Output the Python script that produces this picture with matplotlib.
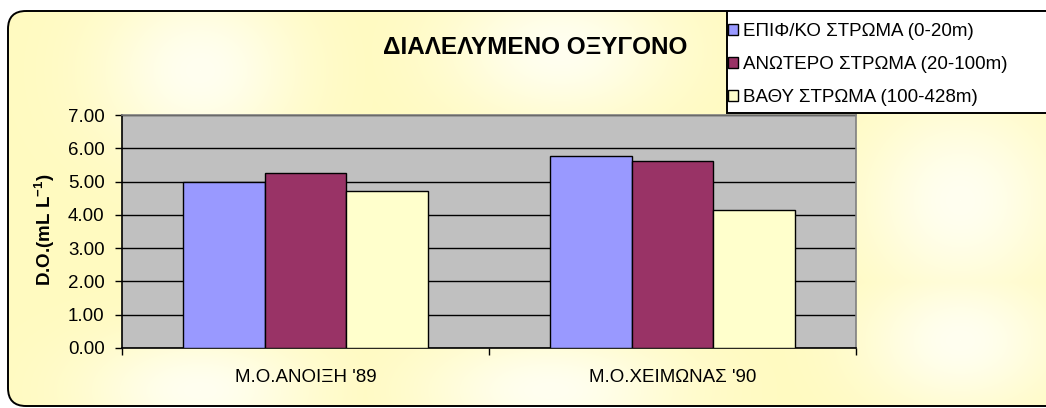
import numpy as np
import matplotlib
matplotlib.use("Agg")
import matplotlib.pyplot as plt
from matplotlib.patches import FancyBboxPatch, Patch, Rectangle

plt.rcParams['font.family'] = ['Liberation Sans', 'DejaVu Sans']
plt.rcParams['mathtext.fontset'] = 'custom'
plt.rcParams['mathtext.rm'] = 'Liberation Sans'
plt.rcParams['mathtext.bf'] = 'Liberation Sans:bold'

# dissolved oxygen, mean per season and layer
seasons = ["Μ.Ο.ΑΝΟΙΞΗ '89", "Μ.Ο.ΧΕΙΜΩΝΑΣ '90"]
layers = ["ΕΠΙΦ/ΚΟ ΣΤΡΩΜΑ (0-20m)", "ΑΝΩΤΕΡΟ ΣΤΡΩΜΑ (20-100m)", "ΒΑΘΥ ΣΤΡΩΜΑ (100-428m)"]
surface = [5.00, 5.77]
upper = [5.25, 5.63]
deep = [4.72, 4.14]
colors = ["#9999FF", "#993366", "#FFFFCC"]

W, H = 1046, 408
fs = 13.5
fig = plt.figure(figsize=(W / 100, H / 100), dpi=100, facecolor="white")

# chart background: pale yellow with soft lighter patches, inside a rounded frame
bg = fig.add_axes([0, 0, 1, 1])
bg.set_xlim(0, W)
bg.set_ylim(H, 0)
bg.axis("off")
yy, xx = np.mgrid[0:H, 0:W]
light = np.zeros((H, W))
for cx, cy, sx, sy in [(200, 70, 70, 60), (560, 50, 80, 50), (550, 390, 90, 40),
                       (960, 200, 70, 70), (960, 340, 70, 50), (200, 390, 80, 40)]:
    light = np.maximum(light, np.exp(-((xx - cx) ** 2 / (2 * sx ** 2) + (yy - cy) ** 2 / (2 * sy ** 2))))
base = np.array([255, 250, 192]) / 255
top = np.array([255, 255, 240]) / 255
img = base[None, None, :] + light[:, :, None] * (top - base)[None, None, :]
frame = FancyBboxPatch((8, 11), 1060, 395, boxstyle="round,pad=0,rounding_size=18",
                       facecolor="none", edgecolor="black", linewidth=1.4, zorder=2)
bg.add_patch(frame)
im = bg.imshow(img, extent=(0, W, H, 0), aspect="auto", zorder=0)
im.set_clip_path(frame)
# legend box, open to the right edge
bg.add_patch(Rectangle((727, 11), 340, 102, facecolor="white", edgecolor="black",
                       linewidth=1.4, zorder=3))

ax = fig.add_axes([122 / W, 1 - 348 / H, (856 - 122) / W, (348 - 115) / H])
ax.set_facecolor("#C0C0C0")

x = np.arange(len(seasons))
w = 1 / 4.5
for i, (vals, c) in enumerate(zip([surface, upper, deep], colors)):
    ax.bar(x + (i - 1) * w, vals, w, color=c, edgecolor="black", linewidth=1, zorder=3)

ax.set_xlim(-0.5, 1.5)
ax.set_ylim(0, 7)
ax.set_yticks(np.arange(0, 8, 1))
ax.set_yticklabels([f"{v:.2f}" for v in np.arange(0, 8, 1)])
ax.yaxis.grid(True, color="black", linewidth=1)
ax.set_axisbelow(True)
ax.tick_params(axis="y", direction="out", length=5, width=1, pad=7.5, labelsize=fs)

ax.set_xticks([-0.5, 0.5, 1.5])
ax.set_xticklabels([])
ax.set_xticks(x, minor=True)
ax.set_xticklabels(seasons, minor=True)
ax.tick_params(axis="x", which="major", direction="out", length=5, width=1)
ax.tick_params(axis="x", which="minor", length=0, pad=15, labelsize=fs)

for s in ["left", "bottom"]:
    ax.spines[s].set_color("black")
    ax.spines[s].set_linewidth(1.2)
for s in ["top", "right"]:
    ax.spines[s].set_color("#808080")
    ax.spines[s].set_linewidth(1.2)

fig.text(45 / W, 1 - 230 / H, r"D.O.(mL L$^{\mathbf{-1}}$)", rotation=90, ha="center", va="center",
         fontsize=fs, fontweight="bold")
fig.text(535 / W, 1 - 47 / H, "ΔΙΑΛΕΛΥΜΕΝΟ ΟΞΥΓΟΝΟ", ha="center", va="center",
         fontsize=17.5, fontweight="bold")

handles = [Patch(facecolor=c, edgecolor="black", linewidth=1) for c in colors]
leg = fig.legend(handles, layers, loc="upper left",
                 bbox_to_anchor=(728 / W, 1 - 23 / H), bbox_transform=fig.transFigure,
                 fontsize=fs, frameon=False, borderaxespad=0, borderpad=0,
                 handlelength=0.55, handleheight=0.55, handletextpad=0.25, labelspacing=0.86)

fig.savefig("out.png", dpi=100, facecolor="white")
